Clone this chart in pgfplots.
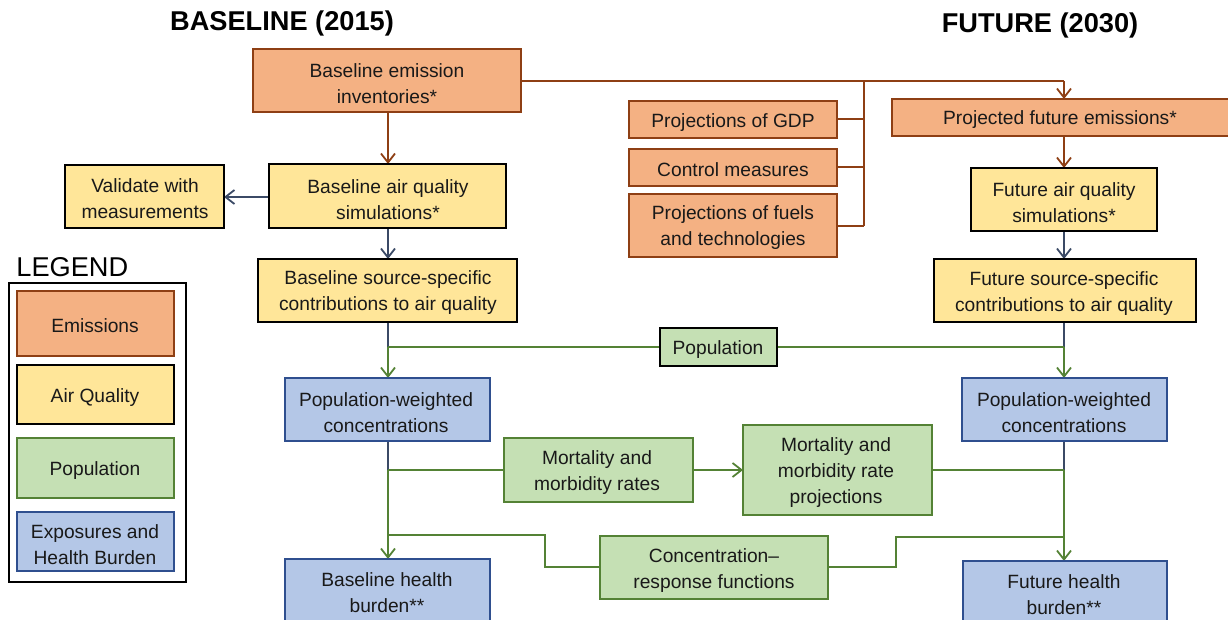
\documentclass[border=0pt]{standalone}
\usepackage{fontspec}
\setmainfont{Liberation Sans}
\usepackage{pgfplots}
\pgfplotsset{compat=1.18}
\usetikzlibrary{arrows.meta}
\definecolor{emfill}{HTML}{F4B183}
\definecolor{emline}{HTML}{8E3F14}
\definecolor{aqfill}{HTML}{FFE699}
\definecolor{popfill}{HTML}{C5E0B4}
\definecolor{popline}{HTML}{548235}
\definecolor{exfill}{HTML}{B4C7E7}
\definecolor{exline}{HTML}{2F4F8F}
\definecolor{navy}{HTML}{3B4A66}
\tikzset{
  em/.style={fill=emfill,draw=emline,line width=1pt},
  aq/.style={fill=aqfill,draw=black,line width=1.1pt},
  po/.style={fill=popfill,draw=popline,line width=1pt},
  pk/.style={fill=popfill,draw=black,line width=1.1pt},
  ex/.style={fill=exfill,draw=exline,line width=1pt},
  txt/.style={font=\fontsize{9.6}{13}\selectfont,align=center,inner sep=0pt,text=black!90,yshift=-1.2pt},
  arr/.style={-{Straight Barb[length=4.5pt,width=7pt,line width=0.9pt]}},
  ln/.style={line width=0.9pt},
}
% \bx{style}{x1}{y1}{x2}{y2}{cx}{cy}{text}
\newcommand{\bx}[8]{\draw[#1] (#2,#3) rectangle (#4,#5); \node[txt] at (#6,#7) {#8};}
\begin{document}
\begin{tikzpicture}
\begin{axis}[
  x=0.5pt, y=0.5pt, y dir=reverse,
  xmin=0, xmax=1228, ymin=0, ymax=620,
  hide axis, clip=false,
]
\addplot[draw=none] coordinates {(0,0) (1228,620)};
% titles
\node[font=\fontsize{13.6}{16}\selectfont\bfseries] at (282,23) {BASELINE (2015)};
\node[font=\fontsize{13.6}{16}\selectfont\bfseries] at (1040,25) {FUTURE (2030)};
% ---- connectors (brown)
\draw[ln,emline] (521,81) -- (1064,81);
\draw[ln,emline,arr] (1064,81) -- (1064,99);
\draw[ln,emline] (864,81) -- (864,226);
\draw[ln,emline] (837,119) -- (864,119);
\draw[ln,emline] (837,167) -- (864,167);
\draw[ln,emline] (837,226) -- (864,226);
\draw[ln,emline,arr] (388,112) -- (388,164);
\draw[ln,emline,arr] (1064,136) -- (1064,168);
% ---- navy connectors
\draw[ln,navy,arr] (388,228) -- (388,259);
\draw[ln,navy,arr] (1064,231) -- (1064,259);
\draw[ln,navy,arr] (269,197) -- (224,197);
\draw[ln,navy] (388,322) -- (388,347);
\draw[ln,navy] (1064,322) -- (1064,347);
\draw[ln,navy] (388,441) -- (388,470);
\draw[ln,navy] (1064,441) -- (1064,470);
% ---- green connectors
\draw[ln,popline] (388,347) -- (1064,347);
\draw[ln,popline,arr] (388,347) -- (388,378);
\draw[ln,popline,arr] (1064,347) -- (1064,378);
\draw[ln,popline] (504,470) -- (388,470);
\draw[ln,popline,arr] (388,470) -- (388,559);
\draw[ln,popline] (600,567) -- (545,567) -- (545,535) -- (388,535);
\draw[ln,popline,arr] (693,470) -- (743,470);
\draw[ln,popline] (932,470) -- (1064,470);
\draw[ln,popline,arr] (1064,470) -- (1064,561);
\draw[ln,popline] (828,567) -- (896,567) -- (896,537) -- (1064,537);
% ---- boxes
\bx{em}{253}{49}{521}{112}{387}{81}{Baseline emission\\inventories*}
\bx{em}{629}{101}{837}{138}{733}{120}{Projections of GDP}
\bx{em}{629}{149}{837}{186}{733}{167}{Control measures}
\bx{em}{629}{194}{837}{257}{733}{225}{Projections of fuels\\and technologies}
\bx{em}{892}{99}{1240}{136}{1060}{117}{Projected future emissions*}
\bx{aq}{65}{165}{224}{228}{145}{196}{Validate with\\measurements}
\bx{aq}{269}{164}{506}{228}{388}{197}{Baseline air quality\\simulations*}
\bx{aq}{971}{168}{1157}{231}{1064}{200}{Future air quality\\simulations*}
\bx{aq}{258}{259}{517}{322}{388}{290}{Baseline source-specific\\contributions to air quality}
\bx{aq}{934}{259}{1196}{322}{1064}{291}{Future source-specific\\contributions to air quality}
\bx{pk}{660}{328}{777}{366}{718}{347}{Population}
\bx{ex}{285}{378}{490}{441}{386}{410}{Population-weighted\\concentrations}
\bx{ex}{962}{378}{1167}{441}{1064}{410}{Population-weighted\\concentrations}
\bx{po}{504}{438}{693}{502}{597}{470}{Mortality and\\morbidity rates}
\bx{po}{743}{425}{932}{515}{836}{470}{Mortality and\\morbidity rate\\projections}
\bx{po}{600}{536}{828}{599}{714}{568}{Concentration--\\response functions}
\bx{ex}{285}{559}{490}{650}{387}{590}{Baseline health\\burden**}
\bx{ex}{963}{561}{1167}{650}{1064}{592}{Future health\\burden**}
% ---- legend
\node[anchor=west,inner sep=0pt,font=\fontsize{13.6}{16}\selectfont] at (16,267) {LEGEND};
\draw[black,line width=1.1pt] (9,283) rectangle (186,582);
\bx{em}{17}{291}{174}{356}{95}{323}{Emissions}
\bx{aq}{17}{365}{174}{424}{95}{395}{Air Quality}
\bx{po}{17}{438}{174}{498}{95}{468}{Population}
\bx{ex}{17}{512}{174}{571}{95}{542}{Exposures and\\Health Burden}
\end{axis}
\pgfresetboundingbox
\useasboundingbox (current axis.south west) rectangle (current axis.north east);
\end{tikzpicture}
\end{document}
